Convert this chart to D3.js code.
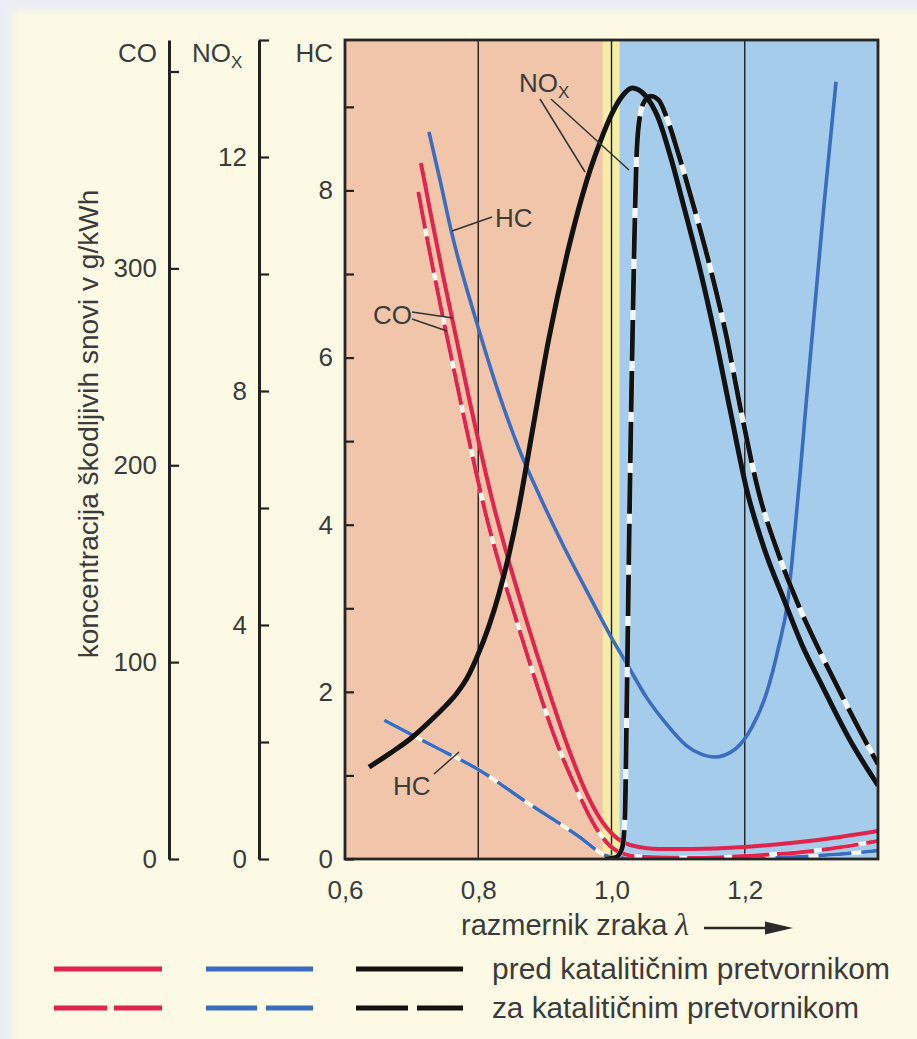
<!DOCTYPE html>
<html>
<head>
<meta charset="utf-8">
<script src="https://cdn.jsdelivr.net/npm/d3@7"></script>
<style>
  html, body { margin: 0; padding: 0; background: #e8eef4; }
  svg { display: block; }
</style>
</head>
<body>
<svg id="chart" width="917" height="1039"></svg>
<script>
// ---- axis ticks and labels ----
const lambdaTicks = [0.6, 0.8, 1.0, 1.2];
const gridLambdas = [0.8, 1.0, 1.2];
const bandEdges = [0.6, 0.987, 1.012, 1.4];   // rich | stoichiometric window | lean
const coTicks = [0, 100, 200, 300, 400];
const coLabels = [0, 100, 200, 300];
const noxTicks = [0, 2, 4, 6, 8, 10, 12, 14];
const noxLabels = [0, 4, 8, 12];
const hcTicks = [0, 1, 2, 3, 4, 5, 6, 7, 8, 9];
const hcLabels = [0, 2, 4, 6, 8];
const legendLabels = ["pred katalitičnim pretvornikom", "za katalitičnim pretvornikom"];

// ---- emissions [lambda, g/kWh] ----
// CO before the catalytic converter
const coBefore = [[0.714,353.5],[0.729,327.1],[0.747,296.6],[0.767,264.6],[0.788,231.1],[0.806,203.7],
  [0.821,182.3],[0.842,155.9],[0.873,120.4],[0.903,88.4],[0.933,58.4],[0.963,33.0],[0.993,15.7],
  [1.028,7.1],[1.073,5.1],[1.122,5.1],[1.200,6.1],[1.283,8.6],[1.343,11.2],[1.400,14.2]];
// CO after the catalytic converter
const coAfter = [[0.710,338.8],[0.723,315.4],[0.741,284.9],[0.761,252.4],[0.782,218.9],[0.800,191.5],
  [0.809,178.3],[0.828,153.9],[0.858,120.4],[0.888,88.4],[0.918,58.9],[0.948,35.0],[0.975,16.8],
  [0.998,6.6],[1.020,2.5],[1.050,1.0],[1.133,0.5],[1.200,1.5],[1.302,4.1],[1.400,9.1]];
// HC before
const hcBefore = [[0.726,8.70],[0.743,8.11],[0.759,7.53],[0.798,6.41],[0.833,5.52],[0.863,4.87],
  [0.893,4.33],[0.927,3.76],[0.966,3.16],[1.002,2.62],[1.022,2.35],[1.052,1.94],[1.082,1.62],
  [1.112,1.36],[1.133,1.26],[1.155,1.22],[1.185,1.31],[1.211,1.58],[1.232,1.97],
  [1.250,2.51],[1.265,3.11],[1.274,3.82],[1.283,4.60],[1.292,5.44],[1.302,6.33],[1.319,7.83],[1.337,9.30]];
// HC after
const hcAfter = [[0.659,1.66],[0.728,1.37],[0.798,1.08],[0.882,0.63],[0.951,0.27],[0.992,0.04],
  [1.013,0.01],[1.133,0.01],[1.253,0.02],[1.328,0.05],[1.400,0.10]];
// NOx before
const noxBefore = [[0.636,1.57],[0.668,1.81],[0.702,2.09],[0.728,2.36],[0.752,2.63],[0.767,2.82],
  [0.783,3.09],[0.798,3.45],[0.816,3.98],[0.831,4.53],[0.846,5.20],[0.860,5.95],[0.881,7.30],
  [0.905,8.84],[0.933,10.32],[0.968,11.78],[0.983,12.26],[1.001,12.75],[1.016,13.04],[1.031,13.18],
  [1.050,13.06],[1.070,12.67],[1.088,12.03],[1.110,11.09],[1.133,10.07],[1.155,8.96],[1.178,7.68],
  [1.203,6.31],[1.230,5.28],[1.259,4.43],[1.286,3.66],[1.314,3.01],[1.358,2.03],[1.400,1.26]];
// NOx after
const noxAfter = [[0.990,0.00],[1.007,0.03],[1.016,0.19],[1.020,0.67],[1.023,2.72],[1.026,5.11],
  [1.029,7.33],[1.032,9.21],[1.035,10.92],[1.038,12.12],[1.043,12.72],[1.050,12.96],[1.059,13.04],
  [1.071,12.97],[1.083,12.67],[1.101,12.03],[1.125,11.09],[1.149,10.07],[1.172,8.96],[1.194,7.68],
  [1.220,6.31],[1.250,5.23],[1.281,4.33],[1.310,3.61],[1.341,2.90],[1.379,2.06],[1.400,1.62]];

// ---- layout & styles ----
const FONT = '"Liberation Sans", Arial, Helvetica, sans-serif';
const TEXT = "#3b3b3b";
const RED = "#e0244c", BLUE = "#3a6dbf", BLACK = "#121212";
const plot = { left: 345, right: 878, top: 40, bottom: 859 };
const bandColors = ["#f0c5a9", "#f6eca4", "#a5cdeb"];

const svg = d3.select("#chart");
const defs = svg.append("defs");
defs.append("filter").attr("id", "soft")
  .append("feGaussianBlur").attr("stdDeviation", 4);
defs.append("clipPath").attr("id", "plotClip")
  .append("rect").attr("x", plot.left).attr("y", plot.top)
  .attr("width", plot.right - plot.left).attr("height", plot.bottom - plot.top);

// page
svg.append("rect").attr("width", 917).attr("height", 1039).attr("fill", "#e8eef4");
svg.append("rect").attr("x", 12).attr("y", 10).attr("width", 940).attr("height", 1070)
  .attr("fill", "#fcfae4").attr("filter", "url(#soft)");

// scales
const x = d3.scaleLinear().domain([0.6, 1.4]).range([plot.left, plot.right]);
const yHC = d3.scaleLinear().domain([0, 9.8]).range([plot.bottom, plot.top]);
const yNOx = d3.scaleLinear().domain([0, 14]).range([plot.bottom, plot.top]);
const yCO = d3.scaleLinear().domain([0, 416]).range([plot.bottom, plot.top]);

// background bands
svg.append("g").selectAll("rect").data(d3.pairs(bandEdges)).join("rect")
  .attr("x", d => x(d[0])).attr("width", d => x(d[1]) - x(d[0]))
  .attr("y", plot.top).attr("height", plot.bottom - plot.top)
  .attr("fill", (d, i) => bandColors[i]);

// vertical reference lines
svg.append("g").selectAll("line").data(gridLambdas).join("line")
  .attr("x1", d => x(d)).attr("x2", d => x(d))
  .attr("y1", plot.top).attr("y2", plot.bottom)
  .attr("stroke", "#1e1e1e").attr("stroke-width", 1.4);

// curves
const series = [
  { data: hcAfter,   y: yHC,  color: BLUE,  width: 3.6, dash: "33,10" },
  { data: hcBefore,  y: yHC,  color: BLUE,  width: 3.6 },
  { data: coAfter,   y: yCO,  color: RED,   width: 4.0, dash: "37,8" },
  { data: coBefore,  y: yCO,  color: RED,   width: 4.0 },
  { data: noxAfter,  y: yNOx, color: BLACK, width: 4.8, dash: "41,10" },
  { data: noxBefore, y: yNOx, color: BLACK, width: 5.0 }
];
const curves = svg.append("g").attr("clip-path", "url(#plotClip)");
series.forEach(s => {
  const gen = d3.line().x(d => x(d[0])).y(d => s.y(d[1])).curve(d3.curveMonotoneX);
  if (s.dash) {
    curves.append("path").attr("d", gen(s.data)).attr("fill", "none")
      .attr("stroke", "#fffdf6").attr("stroke-opacity", 0.9).attr("stroke-width", s.width + 0.4);
  }
  curves.append("path").attr("d", gen(s.data)).attr("fill", "none")
    .attr("stroke", s.color).attr("stroke-width", s.width)
    .attr("stroke-dasharray", s.dash || null)
    .attr("stroke-linecap", "butt").attr("stroke-linejoin", "round");
});

// plot frame
svg.append("rect").attr("x", plot.left).attr("y", plot.top)
  .attr("width", plot.right - plot.left).attr("height", plot.bottom - plot.top)
  .attr("fill", "none").attr("stroke", "#262626").attr("stroke-width", 2.8);

// vertical value axes: ticks point right, labels on the left
function valueAxis(scale, ticks, labels, xPos, showDomain, tickLen) {
  const ax = d3.axisLeft(scale).tickValues(ticks).tickSize(-tickLen).tickSizeOuter(0)
    .tickPadding(12).tickFormat(d => labels.includes(d) ? String(d) : "");
  const g = svg.append("g").attr("transform", `translate(${xPos},0)`).call(ax);
  g.attr("font-family", FONT).attr("font-size", 26);
  g.select(".domain").attr("stroke", "#222").attr("stroke-width", 3)
    .attr("display", showDomain ? null : "none");
  g.selectAll(".tick line").attr("stroke", "#222").attr("stroke-width", 2.2);
  g.selectAll(".tick text").attr("fill", TEXT);
  return g;
}
valueAxis(yCO, coTicks, coLabels, 169, true, 10);
valueAxis(yNOx, noxTicks, noxLabels, 259, true, 10);
valueAxis(yHC, hcTicks, hcLabels, plot.left, false, 9);

// lambda axis labels
const xa = svg.append("g").attr("transform", `translate(0,${plot.bottom})`)
  .call(d3.axisBottom(x).tickValues(lambdaTicks).tickSize(0).tickPadding(22)
    .tickFormat(d => d.toFixed(1).replace(".", ",")));
xa.attr("font-family", FONT).attr("font-size", 26);
xa.select(".domain").remove();
xa.selectAll(".tick text").attr("fill", TEXT);

// text helper
function label(xp, yp, str, opts = {}) {
  const t = svg.append("text").attr("x", xp).attr("y", yp)
    .attr("font-family", FONT).attr("font-size", opts.size || 26)
    .attr("fill", TEXT).attr("text-anchor", opts.anchor || "start").text(str);
  if (opts.length) t.attr("textLength", opts.length).attr("lengthAdjust", "spacingAndGlyphs");
  return t;
}
function noxLabel(xp, yp) {
  const t = label(xp, yp, "NO");
  t.append("tspan").attr("font-size", 17).attr("dy", 6).text("X");
}

// axis headers
label(157, 62, "CO", { anchor: "end" });
noxLabel(192, 62);
label(333, 62, "HC", { anchor: "end" });

// y title
svg.append("text").attr("transform", "translate(98,424) rotate(-90)")
  .attr("text-anchor", "middle").attr("font-family", FONT).attr("font-size", 28)
  .attr("fill", TEXT).text("koncentracija škodljivih snovi v g/kWh");

// x title with arrow
const xt = label(461, 935, "razmernik zraka ", { size: 29 });
xt.append("tspan").attr("font-family", '"Liberation Serif", "DejaVu Serif", serif')
  .attr("font-style", "italic").attr("font-size", 32).text("λ");
svg.append("line").attr("x1", 704).attr("x2", 770).attr("y1", 928).attr("y2", 928)
  .attr("stroke", "#2a2a2a").attr("stroke-width", 2.6);
svg.append("path").attr("d", "M765,921.5 L793,928 L765,934.5 Z").attr("fill", "#2a2a2a");

// curve annotations
const leaders = [
  [540, 99, 585, 172], [551, 99, 629, 170],
  [492, 217, 452, 231],
  [412, 312, 453, 318], [412, 319, 447, 331],
  [434, 774, 459, 752]
];
svg.append("g").selectAll("line").data(leaders).join("line")
  .attr("x1", d => d[0]).attr("y1", d => d[1]).attr("x2", d => d[2]).attr("y2", d => d[3])
  .attr("stroke", "#333").attr("stroke-width", 1.5);
noxLabel(519, 92);
label(495, 227, "HC");
label(373, 324, "CO");
label(393, 795, "HC");

// legend
const legendRows = [969, 1008];
const legendWidths = [398, 367];
const legendKeys = [
  { color: RED,   x1: 54,  x2: 162, dash: "53,7" },
  { color: BLUE,  x1: 206, x2: 313, dash: "51,9" },
  { color: BLACK, x1: 356, x2: 463, dash: "52,9" }
];
legendRows.forEach((ry, row) => {
  legendKeys.forEach(k => {
    svg.append("line").attr("x1", k.x1).attr("x2", k.x2).attr("y1", ry).attr("y2", ry)
      .attr("stroke", k.color).attr("stroke-width", 5)
      .attr("stroke-dasharray", row === 1 ? k.dash : null);
  });
  label(492, ry + 10, legendLabels[row], { size: 29, length: legendWidths[row] });
});
</script>
</body>
</html>
